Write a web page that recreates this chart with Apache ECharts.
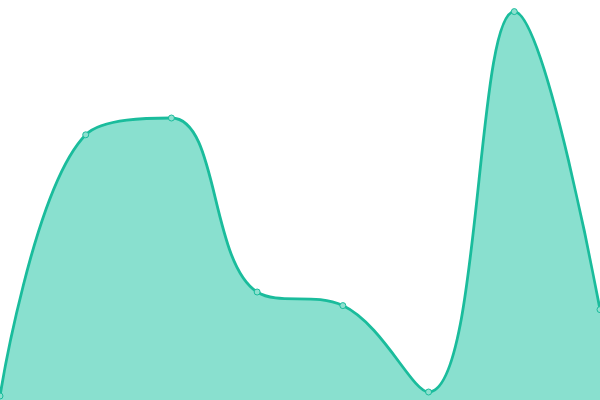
<!DOCTYPE html>
<html>
<head>
<meta charset="utf-8">
<script src="https://cdn.jsdelivr.net/npm/echarts@6/dist/echarts.min.js"></script>
<style>
  html, body { margin: 0; padding: 0; background: #fff; }
  #main { width: 600px; height: 400px; }
</style>
</head>
<body>
<div id="main"></div>
<script>
// 数据
var categories = ['A', 'B', 'C', 'D', 'E', 'F', 'G', 'H'];
var values = [1, 66.3, 70.5, 27, 23.6, 2, 97.1, 22.6];

var chart = echarts.init(document.getElementById('main'));
var option = {
  animation: false,
  grid: { left: 0, right: 0, top: 0, bottom: 0 },
  xAxis: {
    type: 'category',
    boundaryGap: false,
    data: categories,
    show: false
  },
  yAxis: {
    type: 'value',
    min: 0,
    max: 100,
    show: false
  },
  series: [{
    type: 'line',
    data: values,
    smooth: 0.4,
    symbol: 'circle',
    symbolSize: 6,
    itemStyle: {
      color: '#8de0cf',
      borderColor: '#1abc9c',
      borderWidth: 1
    },
    lineStyle: { color: '#1abc9c', width: 2.8 },
    areaStyle: { color: '#89e0cf', opacity: 1 }
  }]
};
chart.setOption(option);
</script>
</body>
</html>
